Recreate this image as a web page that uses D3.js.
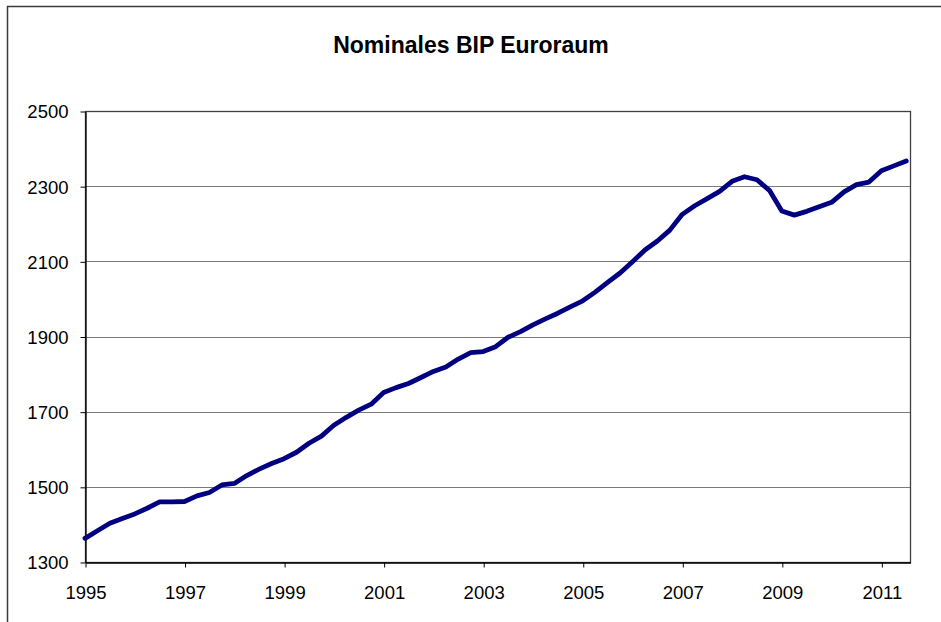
<!DOCTYPE html>
<html>
<head>
<meta charset="utf-8">
<script src="https://cdn.jsdelivr.net/npm/d3@7"></script>
<style>
  body { margin: 0; background: #fff; }
  svg text { font-family: "Liberation Sans", Arial, sans-serif; fill: #000; }
</style>
</head>
<body>
<div id="chart"></div>
<script>
// Nominal GDP euro area, quarterly from 1995 Q1 to 2011 Q3
var gdpValues = [
  1363, 1383, 1403, 1416, 1428, 1443, 1460, 1460,
  1461, 1476, 1485, 1505, 1509, 1530, 1547, 1562,
  1575, 1592, 1616, 1635, 1664, 1685, 1704, 1720,
  1751, 1764, 1775, 1791, 1807, 1819, 1840, 1857,
  1860, 1873, 1898, 1913, 1931, 1947, 1962, 1979,
  1995, 2018, 2044, 2069, 2099, 2130, 2154, 2183,
  2225, 2248, 2267, 2286, 2313, 2325, 2317, 2289,
  2234, 2223, 2233, 2245, 2257, 2285, 2304, 2311,
  2341, 2354, 2367
]
var xTickLabels = ["1995", "1997", "1999", "2001", "2003", "2005", "2007", "2009", "2011"]
var yTicks = [1300, 1500, 1700, 1900, 2100, 2300, 2500]
var chartTitle = "Nominales BIP Euroraum"

var width = 941
var height = 622
var plot = { left: 85, right: 910, top: 111, bottom: 562 }

var svg = d3.select("#chart")
  .append("svg")
  .attr("width", width)
  .attr("height", height)

// outer chart frame (runs off the picture at right and bottom)
svg.append("rect")
  .attr("x", 7.5)
  .attr("y", 6.5)
  .attr("width", 1000)
  .attr("height", 700)
  .attr("fill", "none")
  .attr("stroke", "#3a3a3a")
  .attr("stroke-width", 1.5)

// quarter index -> x
var xScale = d3.scaleLinear()
  .domain([0, 66.3])
  .range([plot.left, plot.right])

var yScale = d3.scaleLinear()
  .domain([1300, 2500])
  .range([plot.bottom, plot.top])

// Y grid
svg.append("g")
  .attr("class", "grid")
  .selectAll("line")
  .data(yTicks)
  .enter()
  .append("line")
  .attr("x1", plot.left)
  .attr("x2", plot.right)
  .attr("y1", d => Math.round(yScale(d)) + 0.5)
  .attr("y2", d => Math.round(yScale(d)) + 0.5)
  .attr("stroke", "#7a7a7a")
  .attr("stroke-width", 1)

// plot area border
svg.append("rect")
  .attr("x", plot.left + 0.5)
  .attr("y", Math.round(yScale(2500)) + 0.5)
  .attr("width", plot.right - plot.left)
  .attr("height", Math.round(yScale(1300)) - Math.round(yScale(2500)))
  .attr("fill", "none")
  .attr("stroke", "#404040")
  .attr("stroke-width", 1.3)

// Y axis
var yAxis = d3.axisLeft(yScale)
  .tickValues(yTicks)
  .tickSize(5)
  .tickPadding(12)
  .tickSizeOuter(0)
  .tickFormat(d => d)

var yG = svg.append("g")
  .attr("transform", `translate(${plot.left + 0.5},0.5)`)
  .call(yAxis)
yG.select(".domain").attr("stroke", "#000").attr("stroke-width", 1.3)
yG.selectAll(".tick line").attr("stroke", "#000")
yG.selectAll(".tick text")
  .style("font-size", "18.5px")
  .attr("dy", "0.35em")

// X axis
var xAxis = d3.axisBottom(xScale)
  .tickValues(xTickLabels.map((d, i) => i * 8))
  .tickSize(5)
  .tickPadding(18)
  .tickSizeOuter(0)
  .tickFormat((d, i) => xTickLabels[i])

var xG = svg.append("g")
  .attr("transform", `translate(0.5,${Math.round(yScale(1300)) + 0.5})`)
  .call(xAxis)
xG.select(".domain").attr("stroke", "#000").attr("stroke-width", 1.3)
xG.selectAll(".tick line").attr("stroke", "#000")
xG.selectAll(".tick text")
  .style("font-size", "18.5px")

// the series line
var line = d3.line()
  .x((d, i) => xScale(i))
  .y(d => yScale(d))

svg.append("path")
  .datum(gdpValues)
  .attr("d", line)
  .attr("fill", "none")
  .attr("stroke", "#000080")
  .attr("stroke-width", 4.8)
  .attr("stroke-linejoin", "round")
  .attr("stroke-linecap", "round")

// title
svg.append("text")
  .attr("x", 471)
  .attr("y", 53)
  .attr("text-anchor", "middle")
  .style("font-size", "23px")
  .style("font-weight", "bold")
  .text(chartTitle)
</script>
</body>
</html>
